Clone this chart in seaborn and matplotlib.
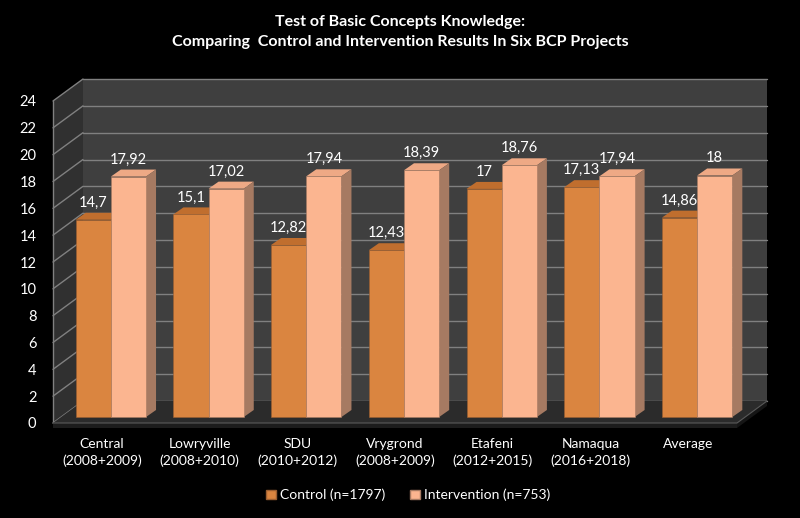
import numpy as np
import pandas as pd
import matplotlib
matplotlib.use("Agg")
import matplotlib.pyplot as plt
import seaborn as sns
from matplotlib.patches import Polygon, Patch
from matplotlib.transforms import ScaledTranslation

# --- data ---
projects = ["Central\n(2008+2009)", "Lowryville\n(2008+2010)", "SDU\n(2010+2012)",
            "Vrygrond\n(2008+2009)", "Etafeni\n(2012+2015)", "Namaqua\n(2016+2018)", "Average"]
control = [14.7, 15.1, 12.82, 12.43, 17, 17.13, 14.86]
intervention = [17.92, 17.02, 17.94, 18.39, 18.76, 17.94, 18]
groups = ["Control (n=1797)", "Intervention (n=753)"]

df = pd.DataFrame({
    "project": projects * 2,
    "score": control + intervention,
    "group": [groups[0]] * len(projects) + [groups[1]] * len(projects),
})

BG = "black"
FRONT = ["#DA8540", "#FBB590"]
TOP = ["#C06E2E", "#EEA985"]
SIDE = ["#9C5E30", "#A67A62"]
GRID = "#808080"
DPI = 100

sns.set_theme(style="white")
plt.rcParams["font.family"] = ["Lato", "DejaVu Sans"]

fig = plt.figure(figsize=(8, 5.18), dpi=DPI)
fig.patch.set_facecolor(BG)
ax = fig.add_axes([53 / 800, (518 - 423) / 518, 684 / 800, 322 / 518])
ax.set_facecolor(BG)

sns.barplot(data=df, x="project", y="score", hue="group", palette=FRONT,
            width=0.72, saturation=1, legend=False, ax=ax)
bars = list(ax.patches)

ax.set_xlim(-0.5, len(projects) - 0.5)
ax.set_ylim(0, 24)
for s in ax.spines.values():
    s.set_visible(False)
ax.set_xlabel("")
ax.set_ylabel("")

# pixel -> data units
pos = ax.get_position()
sx = (len(projects)) / (pos.width * fig.get_figwidth() * DPI)
sy = 24 / (pos.height * fig.get_figheight() * DPI)

# depth offsets (pixels)
WALL_DX, WALL_DY = 30, 22
BAR_DX, BAR_DY = 9, 6
DEP_DX, DEP_DY = 10, 7

x0, x1 = -0.5, len(projects) - 0.5
bx, by = WALL_DX * sx, WALL_DY * sy

# back wall, left wall, floor
ax.add_patch(Polygon([(x0 + bx, by), (x1 + bx, by), (x1 + bx, 24 + by), (x0 + bx, 24 + by)],
                     closed=True, fc="#3f3f3f", ec="none", zorder=0, clip_on=False))
ax.add_patch(Polygon([(x0, 0), (x0 + bx, by), (x0 + bx, 24 + by), (x0, 24)],
                     closed=True, fc="#303030", ec="none", zorder=0, clip_on=False))
for v in range(0, 25, 2):
    ax.plot([x0 + bx, x1 + bx], [v + by, v + by], color=GRID, lw=1, zorder=0.5, clip_on=False)
    ax.plot([x0, x0 + bx], [v, v + by], color=GRID, lw=1, zorder=0.5, clip_on=False)
ax.plot([x0, x0], [0, 24], color=GRID, lw=1, zorder=0.5, clip_on=False)

ax.add_patch(Polygon([(x0, 0), (x1, 0), (x1 + bx, by), (x0 + bx, by)],
                     closed=True, fc="#2b2b2b", ec="none", zorder=0.6, clip_on=False))
lip = 5 * sy
ax.add_patch(Polygon([(x0, 0), (x1, 0), (x1, -lip), (x0, -lip)],
                     closed=True, fc="#1c1c1c", ec="none", zorder=0.6, clip_on=False))
ax.add_patch(Polygon([(x1, 0), (x1 + bx, by), (x1 + bx, by - lip), (x1, -lip)],
                     closed=True, fc="#151515", ec="none", zorder=0.6, clip_on=False))
ax.plot([x0, x1, x1 + bx], [0, 0, by], color="#5a5a5a", lw=0.8, zorder=0.7, clip_on=False)

# bars -> 3D-ish boxes
shift = ax.transData + ScaledTranslation(BAR_DX / DPI, BAR_DY / DPI, fig.dpi_scale_trans)
order = sorted(range(len(bars)), key=lambda i: bars[i].get_x())
n = len(projects)
for rank, i in enumerate(order):
    p = bars[i]
    g = 0 if i < n else 1
    z = 2 + rank
    xl, w, h = p.get_x(), p.get_width(), p.get_height()
    xr = xl + w
    dx, dy = DEP_DX * sx, DEP_DY * sy
    p.set_transform(shift)
    p.set_zorder(z + 0.2)
    p.set_edgecolor(SIDE[g])
    p.set_linewidth(0.4)
    ax.add_patch(Polygon([(xl, h), (xr, h), (xr + dx, h + dy), (xl + dx, h + dy)], closed=True,
                         fc=TOP[g], ec="none", zorder=z, transform=shift, clip_on=False))
    ax.add_patch(Polygon([(xr, 0), (xr + dx, dy), (xr + dx, h + dy), (xr, h)], closed=True,
                         fc=SIDE[g], ec="none", zorder=z, transform=shift, clip_on=False))
    lbl = f"{h:g}".replace(".", ",")
    ax.text(xl + w / 2, h + dy + 3 * sy, lbl, transform=shift, ha="center", va="bottom",
            color="white", fontsize=10.5, zorder=50)

ax.set_yticks(range(0, 25, 2))
ax.tick_params(axis="y", length=0, pad=12, labelcolor="white", labelsize=10.5)
ax.tick_params(axis="x", length=0, pad=11, labelcolor="white", labelsize=10)
for t in ax.get_xticklabels():
    t.set_linespacing(1.35)

handles = [Patch(fc=FRONT[0], ec=SIDE[0]), Patch(fc=FRONT[1], ec=SIDE[1])]
fig.legend(handles, groups, loc="center", bbox_to_anchor=(0.51, 1 - 495 / 518), ncol=2,
           frameon=False, handlelength=0.7, handleheight=0.7, handletextpad=0.3,
           columnspacing=1.8, labelcolor="white", fontsize=10)

fig.text(0.5, 1 - 32 / 518, "Test of Basic Concepts Knowledge:\nComparing  Control and Intervention Results In Six BCP Projects",
         ha="center", va="center", color="white", fontsize=11.5, fontweight="bold",
         linespacing=1.55)

fig.savefig("out.png", dpi=DPI, facecolor=BG)
